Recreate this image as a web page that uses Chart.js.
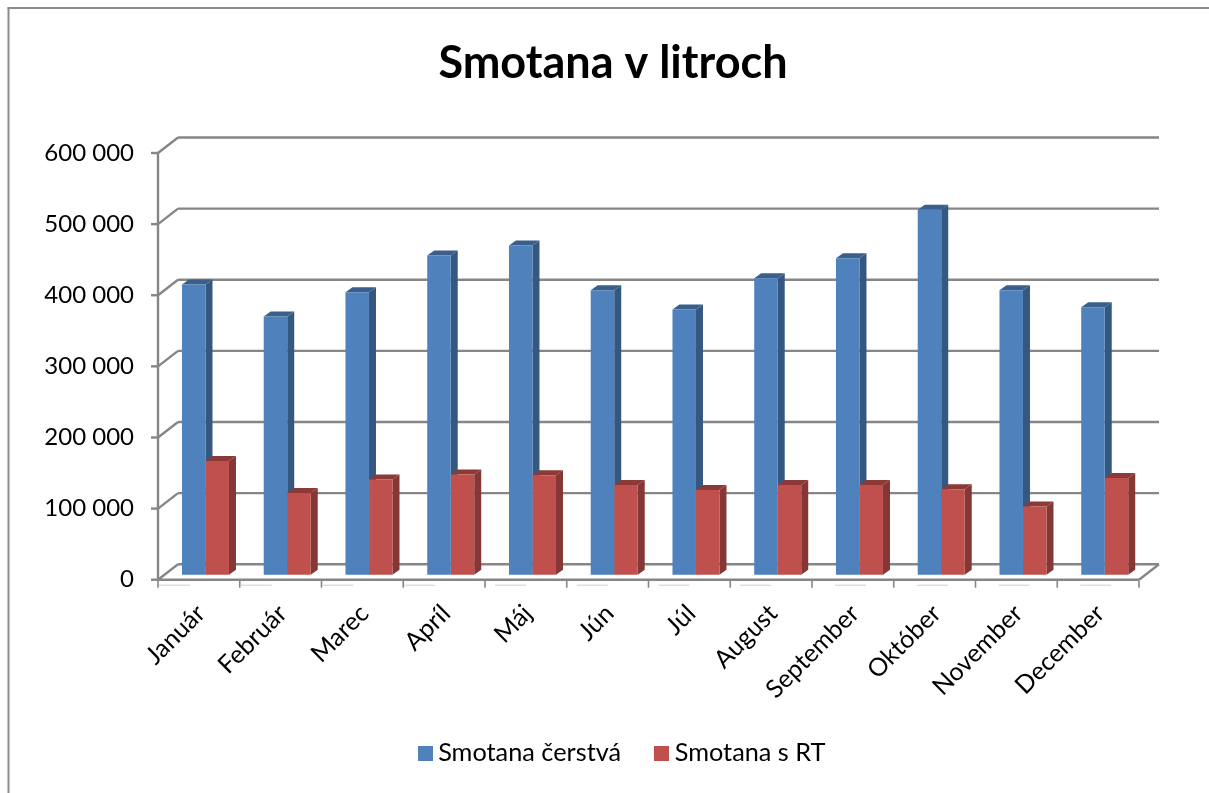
<!DOCTYPE html>
<html>
<head>
<meta charset="utf-8">
<title>Smotana v litroch</title>
<script src="https://cdn.jsdelivr.net/npm/chart.js@4"></script>
<style>
  html, body { margin: 0; padding: 0; background: #fff; }
  canvas { display: block; }
</style>
</head>
<body>
<canvas id="chart" width="1209" height="793"></canvas>
<script>
const months = ['Január', 'Február', 'Marec', 'Apríl', 'Máj', 'Jún', 'Júl', 'August', 'September', 'Október', 'November', 'December'];
const cerstva = [408000, 363000, 397000, 449000, 463000, 400000, 373000, 417000, 445000, 513000, 400000, 376000];
const sRt = [160000, 115000, 134000, 141000, 140000, 126000, 119000, 126000, 126000, 120000, 96000, 136000];
const seriesNames = ['Smotana čerstvá', 'Smotana s RT'];

const FONT = 'Lato, Carlito, sans-serif';
const GRID = '#868686';
const colors = ['#4f81bd', '#c0504d'];
// depth of the wall behind the plot, and of the bars
const wall = { dx: 20, dy: -15.5 };
const barShift = { dx: 6.6, dy: -5 };
const barDepth = { dx: 7, dy: -5 };
const faces = [
  { side: '#34587f', top: '#3a5f8b' },
  { side: '#853735', top: '#8c3a37' },
];

function line(ctx, x1, y1, x2, y2) {
  ctx.beginPath();
  ctx.moveTo(x1, y1);
  ctx.lineTo(x2, y2);
  ctx.stroke();
}

function poly(ctx, pts, color) {
  ctx.fillStyle = color;
  ctx.beginPath();
  pts.forEach((p, i) => (i ? ctx.lineTo(p[0], p[1]) : ctx.moveTo(p[0], p[1])));
  ctx.closePath();
  ctx.fill();
}

// legend swatch as an image, so the text can sit as close to it as in the original
function swatch(color) {
  const c = document.createElement('canvas');
  c.width = 15;
  c.height = 15;
  const g = c.getContext('2d');
  g.fillStyle = color;
  g.fillRect(0, 0, 15, 15);
  return c;
}

const walls = {
  id: 'walls',
  afterLayout(chart) {
    // the original is centred inside its frame, not the window
    chart.titleBlock.left += 43.5;
    chart.titleBlock.right += 43.5;
    const legend = chart.legend;
    legend.left += 55.5;
    legend.right += 55.5;
    const h = legend.bottom - legend.top;
    legend.top = 700.5;
    legend.bottom = 700.5 + h;
  },
  beforeDatasetsDraw(chart) {
    const { ctx, chartArea: area, scales: { x, y } } = chart;
    ctx.save();

    // frame
    ctx.strokeStyle = '#8c8c8c';
    ctx.lineWidth = 2;
    line(ctx, 8.5, 793, 8.5, 7.5);
    line(ctx, 7.5, 8, 1209, 8);

    ctx.strokeStyle = GRID;
    ctx.lineWidth = 2.4;
    y.ticks.forEach((t) => {
      const py = y.getPixelForValue(t.value);
      line(ctx, area.left + wall.dx, py + wall.dy, area.right + wall.dx, py + wall.dy);
      line(ctx, area.left, py, area.left + wall.dx, py + wall.dy);
      line(ctx, area.left - 7, py, area.left, py);
    });
    line(ctx, area.left, area.top, area.left, area.bottom);
    line(ctx, area.left, area.bottom, area.right, area.bottom);
    line(ctx, area.right, area.bottom, area.right + wall.dx, area.bottom + wall.dy);

    // category ticks under the floor
    const step = x.width / months.length;
    ctx.lineWidth = 1.6;
    for (let i = 0; i <= months.length; i++) {
      const px = area.left + i * step;
      line(ctx, px, area.bottom + 1, px, area.bottom + 8);
    }
    ctx.strokeStyle = '#cfcfcf';
    ctx.lineWidth = 1;
    months.forEach((m, i) => {
      const px = area.left + i * step + [1, 10, 23][Math.floor(i / 4)];
      line(ctx, px, area.bottom + 5.5, px + 31, area.bottom + 5.5);
    });

    // sides and tops go under every front face, the fronts then cover them
    ctx.translate(barShift.dx, barShift.dy);
    faces.forEach((f, i) => {
      chart.getDatasetMeta(i).data.forEach((bar) => {
        const { x: bx, y: by, base, width } = bar.getProps(['x', 'y', 'base', 'width']);
        const l = bx - width / 2;
        const r = bx + width / 2;
        poly(ctx, [[r, by], [r + barDepth.dx, by + barDepth.dy], [r + barDepth.dx, base + barDepth.dy], [r, base]], f.side);
        poly(ctx, [[l, by], [l + barDepth.dx, by + barDepth.dy], [r + barDepth.dx, by + barDepth.dy], [r, by]], f.top);
      });
    });
    ctx.restore();
  },
  beforeDatasetDraw(chart) {
    chart.ctx.save();
    chart.ctx.translate(barShift.dx, barShift.dy);
  },
  afterDatasetDraw(chart) {
    chart.ctx.restore();
  },
};

new Chart(document.getElementById('chart'), {
  type: 'bar',
  plugins: [walls],
  data: {
    labels: months,
    datasets: [
      { label: seriesNames[0], data: cerstva, backgroundColor: colors[0], clip: false },
      { label: seriesNames[1], data: sRt, backgroundColor: colors[1], clip: false },
    ],
  },
  options: {
    responsive: false,
    animation: false,
    layout: { padding: { right: 70 } },
    datasets: { bar: { barPercentage: 1, categoryPercentage: 0.575 } },
    plugins: {
      tooltip: { enabled: false },
      title: {
        display: true,
        text: 'Smotana v litroch',
        color: '#000',
        font: { family: FONT, size: 45, weight: 'bold', lineHeight: 1.2 },
        padding: { top: 36, bottom: 63 },
      },
      legend: {
        position: 'bottom',
        onClick: null,
        labels: {
          color: '#000',
          font: { family: FONT, size: 25.3 },
          usePointStyle: true,
          pointStyleWidth: 1,
          padding: 40,
          generateLabels: () => seriesNames.map((name, i) => ({
            text: name,
            pointStyle: swatch(colors[i]),
            lineWidth: 0,
            datasetIndex: i,
          })),
        },
      },
    },
    scales: {
      x: {
        afterFit(scale) { scale.height = 138; },
        grid: { display: false },
        border: { display: false },
        ticks: {
          color: '#000',
          font: { family: FONT, size: 25 },
          minRotation: 45,
          maxRotation: 45,
          padding: 11,
          labelOffset: 2,
          autoSkip: false,
        },
      },
      y: {
        min: 0,
        max: 600000,
        afterFit(scale) { scale.width = 158; },
        grid: { display: false },
        border: { display: false },
        ticks: {
          stepSize: 100000,
          color: '#000',
          font: { family: FONT, size: 24 },
          padding: 16,
          callback: (v) => String(v).replace(/\B(?=(\d{3})+$)/g, ' '),
        },
      },
    },
  },
});
</script>
</body>
</html>
